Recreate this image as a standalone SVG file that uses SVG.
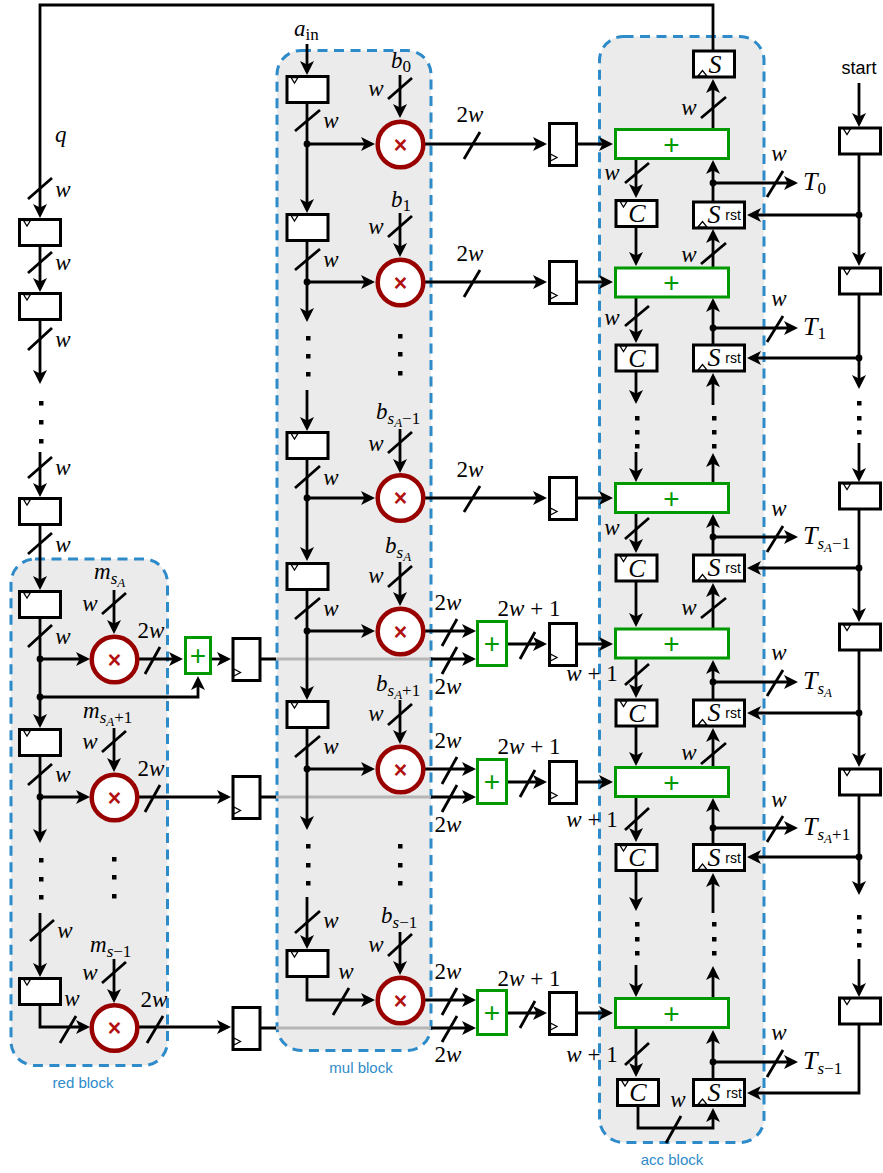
<svg xmlns="http://www.w3.org/2000/svg" width="883" height="1173" viewBox="0 0 883 1173">
<style>
.bg{fill:#fff}
.blk{fill:#ebebeb;stroke:#2e8bc9;stroke-width:3;stroke-dasharray:10 6.5}
.c,.a,.s,.gy{fill:none;stroke:#000;stroke-width:2.8}
.a{marker-end:url(#arr)}
.s{stroke-linecap:butt}
.gy{stroke:#b5b5b5}
.d{fill:#000}
.r{fill:#fff;stroke:#000;stroke-width:3}
.ck{fill:#fff;stroke:#000;stroke-width:1.3}
.g{fill:#fff;stroke:#009900;stroke-width:3}
.m{fill:#fff;stroke:#990000;stroke-width:4.5}
.x{font:bold 23px "Liberation Sans",sans-serif;fill:#b01010;text-anchor:middle}
.p{font:28px "Liberation Sans",sans-serif;fill:#009900;text-anchor:middle}
.t{font:italic 23px "Liberation Serif",serif;fill:#000}
.big{font-size:26px}
.ce{text-anchor:middle}
.u{font-style:normal}
.sb{font-size:17px}
.ss{font-size:13px}
.sans{font:14px "Liberation Sans",sans-serif;fill:#000;text-anchor:middle}
.start{font:18px "Liberation Sans",sans-serif;fill:#000;text-anchor:middle}
.lb{font:15px "Liberation Sans",sans-serif;fill:#2e8bc9;text-anchor:middle}
</style>
<defs>
<marker id="arr" viewBox="0 0 14 14" markerUnits="userSpaceOnUse" markerWidth="14" markerHeight="14" refX="10.5" refY="7" orient="auto"><path d="M14 7L0 0L3.5 7L0 14Z" fill="#000"/></marker>
<g id="reg"><rect class="r" x="1.5" y="1.5" width="41" height="26"/><path class="ck" d="M5.5 2.5H12.5L9 8Z"/></g>
<g id="regv"><rect class="r" x="1.5" y="1.5" width="27" height="42"/><path class="ck" d="M2.5 32L9 35.5L2.5 39Z"/></g>
<g id="sreg"><rect class="r" x="1.5" y="1.5" width="51" height="26"/><path class="ck" d="M6 26.5L10.5 21L15 26.5Z"/></g>
<g id="stop"><rect class="r" x="1.5" y="1.5" width="41" height="26"/><path class="ck" d="M6 26.5L10.5 21L15 26.5Z"/></g>
<circle id="mc" class="m" r="22.8"/>
<rect id="ad" class="g" x="0" y="0" width="113" height="29"/>
<rect id="as" class="g" x="0" y="0" width="29" height="44"/>
</defs>
<rect class="bg" width="883" height="1173"/>
<g id="blocks">
<rect class="blk" x="11" y="559" width="156.5" height="506.5" rx="24"/>
<rect class="blk" x="277" y="50.5" width="154" height="1000" rx="24"/>
<rect class="blk" x="599.5" y="36.5" width="164.5" height="1106" rx="24"/>
</g>
<g id="connectors">
<path class="gy" d="M276 659H431M276 797H431M276 1028H431"/>
<path class="c" d="M261 659H276M261 797H276M261 1028H276"/>
<!-- q chain -->
<path class="a" d="M713 50V5H40V214.5"/>
<path class="a" d="M40 247V288.5"/>
<path class="a" d="M40 321V380.5"/>
<path class="a" d="M40 452V493.5"/>
<path class="a" d="M40 526V586.5"/>
<path class="a" d="M40 618V724.5"/>
<path class="a" d="M40 756V839.5"/>
<path class="a" d="M40 913V973.5"/>
<path class="a" d="M40 1005V1027H86.5"/>
<path class="a" d="M40 659H86.5"/>
<path class="a" d="M40 797H86.5"/>
<path class="a" d="M114 590V630.5"/>
<path class="a" d="M114 728V768.5"/>
<path class="a" d="M114 959V999.5"/>
<path class="a" d="M139 659H179.5"/>
<path class="a" d="M212 659H227.5"/>
<path class="a" d="M40 697H198V679.5"/>
<path class="a" d="M139 797H227.5"/>
<path class="a" d="M139 1027H227.5"/>
<path class="a" d="M431 659H472.5"/>
<path class="a" d="M431 797H472.5"/>
<path class="a" d="M431 1028H472.5"/>
<!-- mul -->
<path class="a" d="M307 44V71.5"/>
<path class="a" d="M307 103V209.5"/>
<path class="a" d="M307 241V318.5"/>
<path class="a" d="M307 390V427.5"/>
<path class="a" d="M307 459V557.5"/>
<path class="a" d="M307 590V696.5"/>
<path class="a" d="M307 728V826.5"/>
<path class="a" d="M307 897V945.5"/>
<path class="a" d="M307 977V1000H371.5"/>
<path class="a" d="M307 144H371.5"/>
<path class="a" d="M307 282H371.5"/>
<path class="a" d="M307 498H371.5"/>
<path class="a" d="M307 631H371.5"/>
<path class="a" d="M307 769H371.5"/>
<path class="a" d="M400 75V114.5"/>
<path class="a" d="M400 213V253.5"/>
<path class="a" d="M400 429V469.5"/>
<path class="a" d="M400 562V602.5"/>
<path class="a" d="M400 700V740.5"/>
<path class="a" d="M400 932V971.5"/>
<path class="a" d="M424 144H543.5"/>
<path class="a" d="M424 282H543.5"/>
<path class="a" d="M424 498H543.5"/>
<path class="a" d="M424 631H472.5"/>
<path class="a" d="M424 769H472.5"/>
<path class="a" d="M424 1000H472.5"/>
<path class="a" d="M508 644H543.5"/>
<path class="a" d="M508 782H543.5"/>
<path class="a" d="M508 1013H543.5"/>
<path class="a" d="M577 144H609.5"/>
<path class="a" d="M577 282H609.5"/>
<path class="a" d="M577 498H609.5"/>
<path class="a" d="M577 644H609.5"/>
<path class="a" d="M577 782H609.5"/>
<path class="a" d="M577 1013H609.5"/>
<!-- acc C column -->
<path class="a" d="M636 159V194.5"/>
<path class="a" d="M636 228V262.5"/>
<path class="a" d="M636 298V339.5"/>
<path class="a" d="M636 372V400.5"/>
<path class="a" d="M636 452V478.5"/>
<path class="a" d="M636 513V549.5"/>
<path class="a" d="M636 582V623.5"/>
<path class="a" d="M636 659V694.5"/>
<path class="a" d="M636 727V762.5"/>
<path class="a" d="M636 797V838.5"/>
<path class="a" d="M636 872V907.5"/>
<path class="a" d="M636 965V993.5"/>
<path class="a" d="M636 1029V1073.5"/>
<!-- acc S column -->
<path class="a" d="M713 129V82.5"/>
<path class="a" d="M713 201V163.5"/>
<path class="a" d="M713 267V232.5"/>
<path class="a" d="M713 344V301.5"/>
<path class="a" d="M713 405V376.5"/>
<path class="a" d="M713 483V456.5"/>
<path class="a" d="M713 554V517.5"/>
<path class="a" d="M713 628V586.5"/>
<path class="a" d="M713 699V663.5"/>
<path class="a" d="M713 767V731.5"/>
<path class="a" d="M713 843V801.5"/>
<path class="a" d="M713 913V876.5"/>
<path class="a" d="M713 998V969.5"/>
<path class="a" d="M713 1078V1033.5"/>
<path class="a" d="M638 1107V1128H713V1111.5"/>
<!-- T outputs -->
<path class="a" d="M713 183H794.5"/>
<path class="a" d="M713 328H794.5"/>
<path class="a" d="M713 537H794.5"/>
<path class="a" d="M713 682H794.5"/>
<path class="a" d="M713 828H794.5"/>
<path class="a" d="M713 1062H794.5"/>
<!-- start chain -->
<path class="a" d="M859 83V123.5"/>
<path class="a" d="M859 155V262.5"/>
<path class="a" d="M859 295V385.5"/>
<path class="a" d="M859 443V478.5"/>
<path class="a" d="M859 510V618.5"/>
<path class="a" d="M859 651V763.5"/>
<path class="a" d="M859 796V891.5"/>
<path class="a" d="M859 959V993.5"/>
<path class="a" d="M859 1025V1093H750.5"/>
<path class="a" d="M859 215H750.5"/>
<path class="a" d="M859 358H750.5"/>
<path class="a" d="M859 568H750.5"/>
<path class="a" d="M859 713H750.5"/>
<path class="a" d="M859 857H750.5"/>
<!-- bus slashes -->
<path class="s" d="M28 199L52 178M28 273L52 252M28 350L52 328M28 478L52 457M28 554L52 533M28 647L52 625M28 785L52 764M30 941L54 920"/>
<path class="s" d="M102 614L126 593M102 752L126 731M102 983L126 962M145 674L160 647M145 812L160 785M147 1043L163 1016M60 1043L76 1016"/>
<path class="s" d="M295 131L320 110M295 270L320 249M295 488L320 466M295 619L320 598M295 757L320 736M295 933L320 911M333 1015L349 988"/>
<path class="s" d="M388 99L412 78M388 237L412 216M388 453L412 432M388 587L412 566M388 725L412 704M388 956L412 934"/>
<path class="s" d="M464 159L480 132M464 297L480 270M464 512L480 486"/>
<path class="s" d="M442 646L457 619M442 674L457 647M442 784L457 757M442 812L457 785M442 1015L457 988M442 1042L457 1016M520 659L535 632M520 797L535 770M520 1028L535 1001"/>
<path class="s" d="M625 183L649 163M625 326L649 306M625 539L649 518M625 685L649 664M625 830L649 808M625 1065L649 1043M666 1143L681 1116"/>
<path class="s" d="M701 118L726 97M701 264L726 243M701 618L726 598M701 764L726 743"/>
<path class="s" d="M767 197L783 171M767 342L783 316M767 552L783 526M767 696L783 670M767 842L783 816M767 1077L783 1050"/>
<!-- junction dots -->
<g class="d">
<circle cx="40" cy="659" r="3.4"/><circle cx="40" cy="697" r="3.4"/><circle cx="40" cy="797" r="3.4"/>
<circle cx="307" cy="144" r="3.4"/><circle cx="307" cy="282" r="3.4"/><circle cx="307" cy="498" r="3.4"/><circle cx="307" cy="631" r="3.4"/><circle cx="307" cy="769" r="3.4"/>
<circle cx="713" cy="183" r="3.4"/><circle cx="713" cy="328" r="3.4"/><circle cx="713" cy="537" r="3.4"/><circle cx="713" cy="682" r="3.4"/><circle cx="713" cy="828" r="3.4"/><circle cx="713" cy="1062" r="3.4"/>
<circle cx="859" cy="215" r="3.4"/><circle cx="859" cy="358" r="3.4"/><circle cx="859" cy="568" r="3.4"/><circle cx="859" cy="713" r="3.4"/><circle cx="859" cy="857" r="3.4"/>
</g>
<!-- ellipsis dots -->
<g class="d">
<rect x="39" y="401" width="4.5" height="4.5"/><rect x="39" y="420" width="4.5" height="4.5"/><rect x="39" y="439" width="4.5" height="4.5"/>
<rect x="39" y="858" width="4.5" height="4.5"/><rect x="39" y="877" width="4.5" height="4.5"/><rect x="39" y="895" width="4.5" height="4.5"/>
<rect x="112" y="857" width="4.5" height="4.5"/><rect x="112" y="875" width="4.5" height="4.5"/><rect x="112" y="894" width="4.5" height="4.5"/>
<rect x="306" y="336" width="4.5" height="4.5"/><rect x="306" y="354" width="4.5" height="4.5"/><rect x="306" y="372" width="4.5" height="4.5"/>
<rect x="398" y="334" width="4.5" height="4.5"/><rect x="398" y="352" width="4.5" height="4.5"/><rect x="398" y="371" width="4.5" height="4.5"/>
<rect x="306" y="844" width="4.5" height="4.5"/><rect x="306" y="863" width="4.5" height="4.5"/><rect x="306" y="881" width="4.5" height="4.5"/>
<rect x="398" y="844" width="4.5" height="4.5"/><rect x="398" y="863" width="4.5" height="4.5"/><rect x="398" y="881" width="4.5" height="4.5"/>
<rect x="635" y="416" width="4.5" height="4.5"/><rect x="635" y="430" width="4.5" height="4.5"/><rect x="635" y="444" width="4.5" height="4.5"/>
<rect x="712" y="416" width="4.5" height="4.5"/><rect x="712" y="430" width="4.5" height="4.5"/><rect x="712" y="444" width="4.5" height="4.5"/>
<rect x="857" y="401" width="4.5" height="4.5"/><rect x="857" y="416" width="4.5" height="4.5"/><rect x="857" y="430" width="4.5" height="4.5"/>
<rect x="635" y="922" width="4.5" height="4.5"/><rect x="635" y="937" width="4.5" height="4.5"/><rect x="635" y="951" width="4.5" height="4.5"/>
<rect x="712" y="922" width="4.5" height="4.5"/><rect x="712" y="937" width="4.5" height="4.5"/><rect x="712" y="951" width="4.5" height="4.5"/>
<rect x="857" y="915" width="4.5" height="4.5"/><rect x="857" y="929" width="4.5" height="4.5"/><rect x="857" y="943" width="4.5" height="4.5"/>
</g>
</g>
<!-- left chain registers -->
<g id="q-reg-0"><use href="#reg" x="18" y="218"/></g>
<g id="q-reg-1"><use href="#reg" x="18" y="292"/></g>
<g id="q-reg-2"><use href="#reg" x="18" y="497"/></g>
<g id="red-reg-0"><use href="#reg" x="18" y="590"/></g>
<g id="red-reg-1"><use href="#reg" x="18" y="728"/></g>
<g id="red-reg-2"><use href="#reg" x="18" y="977"/></g>
<g id="red-mul-0"><use href="#mc" x="114.5" y="659.5"/><text class="x" x="114.5" y="667.5">×</text></g>
<g id="red-mul-1"><use href="#mc" x="114.5" y="797.5"/><text class="x" x="114.5" y="805.5">×</text></g>
<g id="red-mul-2"><use href="#mc" x="114.5" y="1028"/><text class="x" x="114.5" y="1036">×</text></g>
<g id="red-add"><rect class="g" x="185.5" y="637.5" width="25" height="36"/><text class="p" x="198" y="665">+</text></g>
<g id="red-out-0"><use href="#regv" x="231.5" y="637"/></g>
<g id="red-out-1"><use href="#regv" x="231.5" y="775"/></g>
<g id="red-out-2"><use href="#regv" x="231.5" y="1006"/></g>
<!-- mul -->
<g id="mul-reg-0"><use href="#reg" x="285.5" y="75"/></g>
<g id="mul-reg-1"><use href="#reg" x="285.5" y="213"/></g>
<g id="mul-reg-2"><use href="#reg" x="285.5" y="431"/></g>
<g id="mul-reg-3"><use href="#reg" x="285.5" y="562"/></g>
<g id="mul-reg-4"><use href="#reg" x="285.5" y="700"/></g>
<g id="mul-reg-5"><use href="#reg" x="285.5" y="949"/></g>
<g id="mul-0"><use href="#mc" x="400.5" y="144.5"/><text class="x" x="400.5" y="152.5">×</text></g>
<g id="mul-1"><use href="#mc" x="400.5" y="282.5"/><text class="x" x="400.5" y="290.5">×</text></g>
<g id="mul-2"><use href="#mc" x="400.5" y="498"/><text class="x" x="400.5" y="506">×</text></g>
<g id="mul-3"><use href="#mc" x="400.5" y="631.5"/><text class="x" x="400.5" y="639.5">×</text></g>
<g id="mul-4"><use href="#mc" x="400.5" y="769.5"/><text class="x" x="400.5" y="777.5">×</text></g>
<g id="mul-5"><use href="#mc" x="400.5" y="1000.5"/><text class="x" x="400.5" y="1008.5">×</text></g>
<g id="pipe-0"><use href="#regv" x="548" y="122"/></g>
<g id="pipe-1"><use href="#regv" x="548" y="260"/></g>
<g id="pipe-2"><use href="#regv" x="548" y="476"/></g>
<g id="pipe-3"><use href="#regv" x="548" y="622"/></g>
<g id="pipe-4"><use href="#regv" x="548" y="760"/></g>
<g id="pipe-5"><use href="#regv" x="548" y="991"/></g>
<g id="mid-add-0"><use href="#as" x="477.5" y="621.5"/><text class="p" x="492" y="653">+</text></g>
<g id="mid-add-1"><use href="#as" x="477.5" y="759.5"/><text class="p" x="492" y="791">+</text></g>
<g id="mid-add-2"><use href="#as" x="477.5" y="990.5"/><text class="p" x="492" y="1022">+</text></g>
<!-- acc -->
<g id="acc-add-0"><use href="#ad" x="615.5" y="129.5"/><text class="p" x="671.5" y="153.5">+</text></g>
<g id="acc-add-1"><use href="#ad" x="615.5" y="268"/><text class="p" x="671.5" y="292">+</text></g>
<g id="acc-add-2"><use href="#ad" x="615.5" y="483.5"/><text class="p" x="671.5" y="507.5">+</text></g>
<g id="acc-add-3"><use href="#ad" x="615.5" y="629"/><text class="p" x="671.5" y="653">+</text></g>
<g id="acc-add-4"><use href="#ad" x="615.5" y="767.5"/><text class="p" x="671.5" y="791.5">+</text></g>
<g id="acc-add-5"><use href="#ad" x="615.5" y="998.5"/><text class="p" x="671.5" y="1022.5">+</text></g>
<g id="s-top"><use href="#stop" x="692" y="49.5"/><text class="t big ce" x="715" y="72.5">S</text></g>
<g id="c-0"><use href="#reg" x="614.5" y="199"/><text class="t big ce" x="637" y="222">C</text></g>
<g id="c-1"><use href="#reg" x="614.5" y="343.5"/><text class="t big ce" x="637" y="366.5">C</text></g>
<g id="c-2"><use href="#reg" x="614.5" y="553.5"/><text class="t big ce" x="637" y="576.5">C</text></g>
<g id="c-3"><use href="#reg" x="614.5" y="698.5"/><text class="t big ce" x="637" y="721.5">C</text></g>
<g id="c-4"><use href="#reg" x="614.5" y="843"/><text class="t big ce" x="637" y="866">C</text></g>
<g id="c-5"><use href="#reg" x="616" y="1078"/><text class="t big ce" x="638" y="1100.5">C</text></g>
<g id="s-0"><use href="#sreg" x="692" y="200.5"/><text class="t big ce" x="714" y="223">S</text><text class="sans" x="733" y="220">rst</text></g>
<g id="s-1"><use href="#sreg" x="692" y="343.5"/><text class="t big ce" x="714" y="366">S</text><text class="sans" x="733" y="363">rst</text></g>
<g id="s-2"><use href="#sreg" x="692" y="553.5"/><text class="t big ce" x="714" y="576">S</text><text class="sans" x="733" y="573">rst</text></g>
<g id="s-3"><use href="#sreg" x="692" y="698.5"/><text class="t big ce" x="714" y="721">S</text><text class="sans" x="733" y="718">rst</text></g>
<g id="s-4"><use href="#sreg" x="692" y="843"/><text class="t big ce" x="714" y="865.5">S</text><text class="sans" x="733" y="862.5">rst</text></g>
<g id="s-5"><use href="#sreg" x="692" y="1078"/><text class="t big ce" x="714" y="1100.5">S</text><text class="sans" x="734" y="1098">rst</text></g>
<!-- start chain -->
<g id="st-0"><use href="#reg" x="838" y="126.5"/></g>
<g id="st-1"><use href="#reg" x="838" y="266.5"/></g>
<g id="st-2"><use href="#reg" x="838" y="481.5"/></g>
<g id="st-3"><use href="#reg" x="838" y="622.5"/></g>
<g id="st-4"><use href="#reg" x="838" y="767.5"/></g>
<g id="st-5"><use href="#reg" x="838" y="996.5"/></g>
<g id="labels">
<text class="start" x="859" y="74">start</text>
<text class="lb" x="83" y="1088">red block</text>
<text class="lb" x="361" y="1073">mul block</text>
<text class="lb" x="672" y="1165">acc block</text>
<text class="t" x="55" y="142">q</text>
<text class="t" x="294" y="36">a<tspan class="u sb" dy="4">in</tspan></text>
<g class="wl">
<text class="t ce" x="63" y="197">w</text><text class="t ce" x="63" y="270">w</text><text class="t ce" x="63" y="347">w</text><text class="t ce" x="63" y="475">w</text><text class="t ce" x="63" y="552">w</text><text class="t ce" x="63" y="644">w</text><text class="t ce" x="63" y="782">w</text><text class="t ce" x="65" y="938">w</text>
<text class="t ce" x="90" y="611">w</text><text class="t ce" x="90" y="749">w</text><text class="t ce" x="90" y="980">w</text><text class="t ce" x="72" y="1006">w</text>
<text class="t ce" x="331" y="128">w</text><text class="t ce" x="331" y="267">w</text><text class="t ce" x="331" y="485">w</text><text class="t ce" x="331" y="616">w</text><text class="t ce" x="331" y="754">w</text><text class="t ce" x="331" y="928">w</text><text class="t ce" x="346" y="979">w</text>
<text class="t ce" x="376" y="96">w</text><text class="t ce" x="376" y="234">w</text><text class="t ce" x="376" y="451">w</text><text class="t ce" x="376" y="583">w</text><text class="t ce" x="376" y="721">w</text><text class="t ce" x="376" y="952">w</text>
<text class="t ce" x="689" y="115">w</text><text class="t ce" x="689" y="262">w</text><text class="t ce" x="689" y="615">w</text><text class="t ce" x="689" y="760">w</text>
<text class="t ce" x="612" y="180">w</text><text class="t ce" x="612" y="325">w</text><text class="t ce" x="612" y="535">w</text>
<text class="t ce" x="779" y="161">w</text><text class="t ce" x="779" y="306">w</text><text class="t ce" x="779" y="516">w</text><text class="t ce" x="779" y="660">w</text><text class="t ce" x="779" y="807">w</text><text class="t ce" x="779" y="1040">w</text>
<text class="t ce" x="678" y="1107">w</text>
</g>
<g class="tw">
<text class="t ce" x="151" y="638"><tspan class="u">2</tspan>w</text><text class="t ce" x="151" y="776"><tspan class="u">2</tspan>w</text><text class="t ce" x="154" y="1007"><tspan class="u">2</tspan>w</text>
<text class="t ce" x="470" y="122"><tspan class="u">2</tspan>w</text><text class="t ce" x="470" y="261"><tspan class="u">2</tspan>w</text><text class="t ce" x="470" y="477"><tspan class="u">2</tspan>w</text>
<text class="t ce" x="448" y="610"><tspan class="u">2</tspan>w</text><text class="t ce" x="448" y="694"><tspan class="u">2</tspan>w</text><text class="t ce" x="448" y="748"><tspan class="u">2</tspan>w</text><text class="t ce" x="448" y="832"><tspan class="u">2</tspan>w</text><text class="t ce" x="448" y="979"><tspan class="u">2</tspan>w</text><text class="t ce" x="448" y="1062"><tspan class="u">2</tspan>w</text>
<text class="t ce" x="529" y="616"><tspan class="u">2</tspan>w<tspan class="u"> + 1</tspan></text><text class="t ce" x="529" y="754"><tspan class="u">2</tspan>w<tspan class="u"> + 1</tspan></text><text class="t ce" x="529" y="986"><tspan class="u">2</tspan>w<tspan class="u"> + 1</tspan></text>
<text class="t ce" x="592" y="681">w<tspan class="u"> + 1</tspan></text><text class="t ce" x="592" y="827">w<tspan class="u"> + 1</tspan></text><text class="t ce" x="592" y="1062">w<tspan class="u"> + 1</tspan></text>
</g>
<text class="t" x="391" y="68">b<tspan class="u sb" dy="4">0</tspan></text>
<text class="t" x="391" y="207">b<tspan class="u sb" dy="4">1</tspan></text>
<text class="t" x="376" y="419">b<tspan class="sb" dy="5">s</tspan><tspan class="ss" dy="3">A</tspan><tspan class="u sb" dy="-3">−1</tspan></text>
<text class="t" x="385" y="553">b<tspan class="sb" dy="5">s</tspan><tspan class="ss" dy="3">A</tspan></text>
<text class="t" x="376" y="691">b<tspan class="sb" dy="5">s</tspan><tspan class="ss" dy="3">A</tspan><tspan class="u sb" dy="-3">+1</tspan></text>
<text class="t" x="381" y="923">b<tspan class="sb" dy="5">s</tspan><tspan class="u sb">−1</tspan></text>
<text class="t" x="94" y="579">m<tspan class="sb" dy="5">s</tspan><tspan class="ss" dy="3">A</tspan></text>
<text class="t" x="83" y="718">m<tspan class="sb" dy="5">s</tspan><tspan class="ss" dy="3">A</tspan><tspan class="u sb" dy="-3">+1</tspan></text>
<text class="t" x="90" y="952">m<tspan class="sb" dy="5">s</tspan><tspan class="u sb">−1</tspan></text>
<text class="t big" x="803" y="190">T<tspan class="u sb" dy="4">0</tspan></text>
<text class="t big" x="803" y="335">T<tspan class="u sb" dy="4">1</tspan></text>
<text class="t big" x="803" y="544">T<tspan class="sb" dy="5">s</tspan><tspan class="ss" dy="3">A</tspan><tspan class="u sb" dy="-3">−1</tspan></text>
<text class="t big" x="803" y="689">T<tspan class="sb" dy="5">s</tspan><tspan class="ss" dy="3">A</tspan></text>
<text class="t big" x="803" y="835">T<tspan class="sb" dy="5">s</tspan><tspan class="ss" dy="3">A</tspan><tspan class="u sb" dy="-3">+1</tspan></text>
<text class="t big" x="803" y="1069">T<tspan class="sb" dy="5">s</tspan><tspan class="u sb">−1</tspan></text>
</g>
</svg>
